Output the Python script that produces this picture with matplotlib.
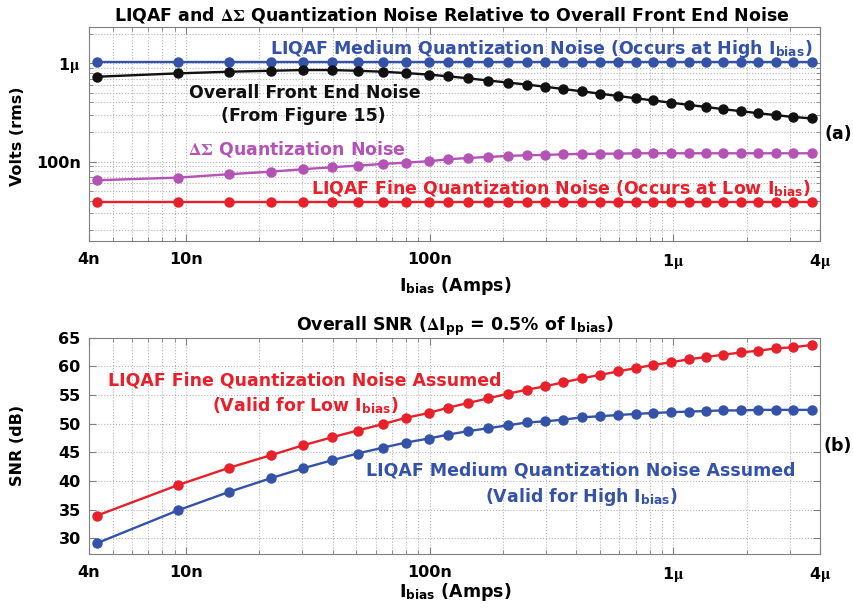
import matplotlib
matplotlib.use("Agg")
import matplotlib.pyplot as plt
from matplotlib.ticker import FixedLocator, LogLocator, NullFormatter, MultipleLocator

plt.rcParams['font.family'] = ['DejaVu Sans']
plt.rcParams['font.weight'] = 'bold'
plt.rcParams['mathtext.fontset'] = 'stix'

# bias current points (A)
ibias = [4.32e-9, 9.27e-9, 15.0e-9, 22.3e-9, 30.1e-9, 39.6e-9, 50.6e-9, 64.1e-9,
         79.7e-9, 99e-9, 119.5e-9, 144e-9, 174e-9, 209e-9, 250e-9, 298e-9,
         354e-9, 423e-9, 502e-9, 595e-9, 705e-9, 827e-9, 980e-9, 1.16e-6,
         1.36e-6, 1.60e-6, 1.90e-6, 2.23e-6, 2.64e-6, 3.10e-6, 3.71e-6]

# (a) noise in V rms
medium_q = [1.04e-6] * len(ibias)
fine_q = [39.2e-9] * len(ibias)
front_end = [0.731, 0.791, 0.822, 0.841, 0.855, 0.855, 0.841, 0.822, 0.797, 0.769,
             0.738, 0.704, 0.669, 0.638, 0.609, 0.578, 0.548, 0.519, 0.491, 0.465,
             0.441, 0.419, 0.398, 0.378, 0.360, 0.342, 0.326, 0.311, 0.297, 0.285, 0.275]
front_end = [v * 1e-6 for v in front_end]
delta_sigma = [64.7, 68.8, 74.5, 79.1, 83.7, 87.7, 91.1, 94.8, 97.7, 101, 105.8,
               109, 111.6, 114.3, 116.2, 117, 118.9, 119.8, 120.6, 120.6, 121.7,
               121.7, 121.7, 121.7, 121.7, 121.7, 121.7, 121.7, 121.7, 121.7, 121.7]
delta_sigma = [v * 1e-9 for v in delta_sigma]

# (b) SNR in dB
snr_fine = [34.0, 39.3, 42.3, 44.5, 46.2, 47.6, 48.8, 49.9, 51.0, 51.85, 52.8,
            53.6, 54.4, 55.2, 55.9, 56.5, 57.2, 57.9, 58.5, 59.1, 59.7, 60.2,
            60.7, 61.2, 61.6, 62.0, 62.4, 62.7, 63.1, 63.3, 63.7]
snr_medium = [29.2, 34.9, 38.1, 40.5, 42.2, 43.6, 44.8, 45.8, 46.7, 47.4, 48.1,
              48.7, 49.2, 49.7, 50.2, 50.4, 50.7, 51.1, 51.3, 51.5, 51.7, 51.85,
              52.0, 52.1, 52.2, 52.3, 52.3, 52.4, 52.4, 52.4, 52.4]

xticks = [4e-9, 10e-9, 100e-9, 1e-6, 4e-6]
xticklabels = ['4n', '10n', '100n', r'1$\mathrm{\mu}$', r'4$\mathrm{\mu}$']

BLUE = '#3452a8'
RED = '#e8202a'
MAG = '#b552b5'
BLACK = '#111111'

W, H = 854, 609
fig = plt.figure(figsize=(W / 100, H / 100), dpi=100)
ax1 = fig.add_axes([89 / W, 1 - 240.7 / H, 731 / W, 214 / H])
ax2 = fig.add_axes([89 / W, 1 - 554 / H, 731 / W, 216.5 / H])


def put(x, y, s, color='black', size=12.5, ha='center'):
    # place text by pixel position in the 854x609 image
    fig.text(x / W, 1 - y / H, s, color=color, fontsize=size, fontweight='bold',
             ha=ha, va='center_baseline')


def style_axis(ax):
    ax.set_xscale('log')
    ax.set_xlim(4e-9, 4e-6)
    ax.xaxis.set_major_locator(FixedLocator(xticks))
    ax.set_xticklabels(xticklabels)
    ax.xaxis.set_minor_locator(LogLocator(base=10, subs=range(2, 10), numticks=20))
    ax.xaxis.set_minor_formatter(NullFormatter())
    ax.grid(True, which='both', color='#b5b5b5', linestyle=':', linewidth=0.8)
    ax.tick_params(which='both', direction='in', top=True, right=True,
                   color='#808080', labelsize=11.5)
    ax.tick_params(axis='x', pad=8)
    ax.tick_params(axis='y', pad=6)
    ax.tick_params(which='major', length=5)
    ax.tick_params(which='minor', length=3)
    for s in ax.spines.values():
        s.set_color('#808080')
    for lab in ax.get_xticklabels() + ax.get_yticklabels():
        lab.set_fontweight('bold')


mk = dict(marker='o', markersize=6.5, linewidth=1.7)

# ----- (a)
ax1.plot(ibias, medium_q, color=BLUE, **mk)
ax1.plot(ibias, front_end, color=BLACK, **mk)
ax1.plot(ibias, delta_sigma, color=MAG, **mk)
ax1.plot(ibias, fine_q, color=RED, **mk)
ax1.set_yscale('log')
ax1.set_ylim(15.7e-9, 2.36e-6)
ax1.yaxis.set_major_locator(FixedLocator([100e-9, 1e-6]))
ax1.yaxis.set_minor_locator(LogLocator(base=10, subs=range(2, 10), numticks=20))
ax1.yaxis.set_minor_formatter(NullFormatter())
ax1.set_yticklabels(['100n', r'1$\mathrm{\mu}$'])
style_axis(ax1)

put(452, 13, r'LIQAF and $\Delta\Sigma$ Quantization Noise Relative to Overall Front End Noise')
put(541, 46, r'LIQAF Medium Quantization Noise (Occurs at High I$_{\mathregular{bias}}$)', BLUE)
put(305, 91, 'Overall Front End Noise', BLACK)
put(303, 114, '(From Figure 15)', BLACK)
put(188, 147, r'$\Delta\Sigma$ Quantization Noise', MAG, ha='left')
put(561, 186, r'LIQAF Fine Quantization Noise (Occurs at Low I$_{\mathregular{bias}}$)', RED)
put(838, 132, '(a)')
put(455, 283, r'I$_{\mathregular{bias}}$ (Amps)')
fig.text(18 / W, 1 - 136 / H, 'Volts (rms)', fontsize=11.5, fontweight='bold',
         rotation=90, ha='center', va='center')

# ----- (b)
ax2.plot(ibias, snr_fine, color=RED, **mk)
ax2.plot(ibias, snr_medium, color=BLUE, **mk)
ax2.set_ylim(27.3, 65)
ax2.yaxis.set_major_locator(MultipleLocator(5))
style_axis(ax2)

put(455, 323, r'Overall SNR ($\Delta$I$_{\mathregular{pp}}$ = 0.5% of I$_{\mathregular{bias}}$)')
put(305, 378, 'LIQAF Fine Quantization Noise Assumed', RED)
put(305, 404, r'(Valid for Low I$_{\mathregular{bias}}$)', RED)
put(581, 468, 'LIQAF Medium Quantization Noise Assumed', BLUE)
put(582, 494, r'(Valid for High I$_{\mathregular{bias}}$)', BLUE)
put(838, 444, '(b)')
put(455, 589, r'I$_{\mathregular{bias}}$ (Amps)')
fig.text(18 / W, 1 - 445 / H, 'SNR (dB)', fontsize=11.5, fontweight='bold',
         rotation=90, ha='center', va='center')

fig.savefig('out.png', dpi=100)
